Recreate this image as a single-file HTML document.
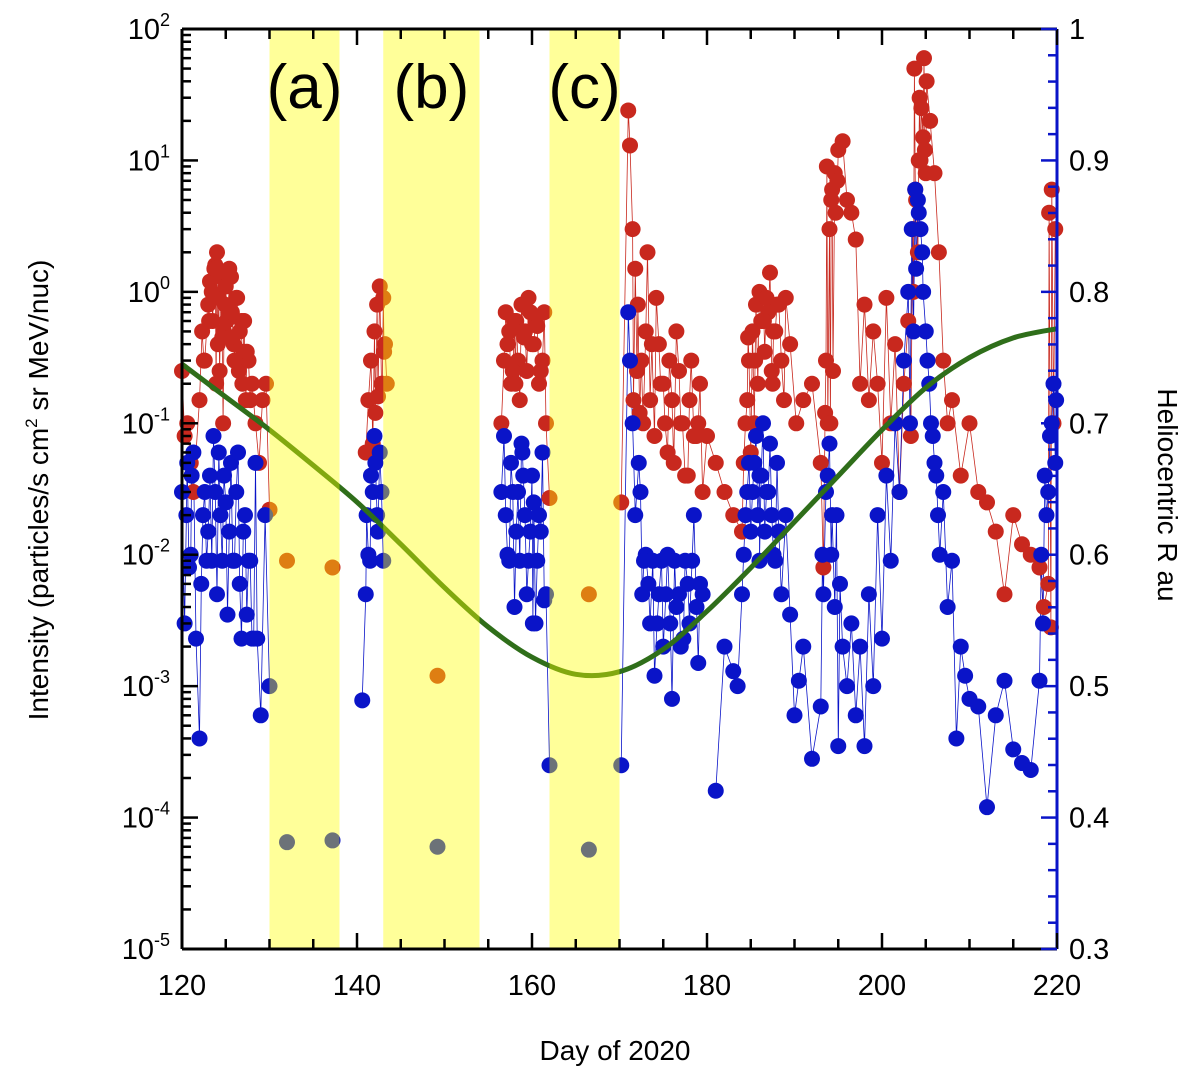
<!DOCTYPE html>
<html><head><meta charset="utf-8"><style>
html,body{margin:0;padding:0;background:#fff}
svg{display:block;font-family:"Liberation Sans",Arial,sans-serif}
</style></head><body>
<svg id="chart" width="1200" height="1081" viewBox="0 0 1200 1081">
<g id="lines"></g><g id="marks"></g><g id="curve"></g><g id="bands"></g><g id="axes"></g>
<text x="615" y="1060" font-size="28" text-anchor="middle">Day of 2020</text>
<text transform="translate(48,490) rotate(-90)" font-size="28" text-anchor="middle">Intensity (particles/s cm<tspan dy="-11" font-size="17">2</tspan><tspan dy="11"> sr MeV/nuc)</tspan></text>
<text transform="translate(1158,495) rotate(90)" font-size="28" text-anchor="middle">Heliocentric R au</text>
</svg>
<script>
const bandStarts=[130,143,162];
const bandEnds=[138,154,170];
const bandLabels=["(a)","(b)","(c)"];
const redDays=[120,120.3,120.6,121,121.3,122,122.3,122.6,123,123.2,123.5,123.8,124,124.2,124.5,124.8,125,125.3,125.6,125.9,126.2,126.5,126.8,127,127.3,127.6,128,128.4,128.8,129.2,129.6,130,132,137.2,141,141.3,141.6,142,142.3,142.6,143,143.2,143.4,149.2,156.5,156.8,157.2,157.6,158,158.4,158.8,159.2,159.6,160,160.4,160.8,161.2,161.6,162,166.5,170.2,171,171.2,171.5,171.8,172.1,172.5,173,173.5,174,174.5,175,175.5,176,176.5,177,177.5,178,178.5,179,179.5,180,181,182,183,184,184.4,184.8,185.2,185.6,186,186.4,186.8,187.2,187.6,188,188.5,189,189.5,190.2,191,192,193,193.3,193.6,194,194.3,194.6,195,195.5,196,196.5,197,197.5,198,198.5,199,199.5,200,200.5,201,201.5,202,202.5,203,203.3,203.6,203.9,204.2,204.5,204.8,205.1,205.5,206,206.5,207,207.5,208,209,210,211,212,213,214,215,216,217,218,218.5,219,219.3,219.6,
122.5,123.1,123.4,123.7,124.1,124.3,124.6,124.9,125.1,125.4,125.7,126,126.3,126.6,126.9,127.1,127.4,127.8,125.5,124.7,123.9,
141.8,142.1,142.4,142.8,142.9,143.1,
157,157.4,157.8,158.2,158.6,159,159.4,159.8,160.2,160.6,161,161.4,158.1,159.1,
171.6,172,172.3,172.7,173.2,173.7,174.2,174.7,175.2,175.7,176.2,176.8,177.2,177.8,178.2,178.8,179.2,
184.2,184.6,185,185.4,185.8,186.2,186.6,187,187.4,187.8,188.2,185.5,186.5,187.5,184.7,188.8,
193.5,193.8,194.1,194.4,194.7,194.9,194.2,193.7,
203.5,203.8,204.1,204.4,204.7,205,204.3,203.7,204.9,
219.1,219.4,219.8];
const redVals=[0.25,0.08,0.1,0.05,0.03,0.15,0.5,0.3,0.8,1.2,0.6,1.6,2.0,0.9,1.3,0.5,1.1,0.7,1.3,0.4,0.9,0.25,0.6,0.35,0.15,0.3,0.2,0.1,0.05,0.15,0.2,0.022,0.009,0.008,0.06,0.15,0.3,0.5,0.8,1.1,0.9,0.4,0.2,0.0012,0.1,0.3,0.4,0.2,0.6,0.3,0.8,0.5,0.9,0.4,0.6,0.2,0.3,0.1,0.027,0.005,0.025,24,13,3,1.5,0.8,0.3,0.5,0.15,0.08,0.4,0.2,0.06,0.15,0.5,0.1,0.04,0.15,0.08,0.1,0.03,0.08,0.05,0.03,0.02,0.015,0.1,0.3,0.5,0.8,1.0,0.6,0.9,1.4,0.5,0.8,0.3,0.9,0.4,0.1,0.15,0.2,0.05,0.008,0.3,3,6,8,12,14,5,4,2.5,0.2,0.8,0.15,0.5,0.2,0.05,0.9,0.1,0.4,0.03,0.2,0.6,0.08,1.0,5,10,25,60,40,20,8,2,0.3,0.1,0.15,0.04,0.1,0.03,0.025,0.015,0.005,0.02,0.012,0.01,0.008,0.004,0.006,0.0028,0.1,0.3,0.6,1.0,1.5,
0.4,0.25,0.45,0.8,0.6,1.5,0.7,0.3,0.9,0.5,0.2,0.6,0.35,0.15,0.45,0.1,0.2,0.07,0.12,0.16,0.2,
0.2,0.35,0.7,0.5,0.25,0.6,
0.15,0.5,0.25,0.7,0.4,0.55,0.25,0.7,0.2,0.45,0.15,0.25,0.12,0.1,
2,0.4,0.9,0.2,0.1,0.3,0.05,0.25,0.1,0.04,0.3,0.08,0.2,0.05,0.15,0.06,0.1,
0.2,0.6,0.35,0.7,0.25,0.5,0.8,0.3,0.6,0.2,0.45,0.15,0.12,0.1,0.1,0.25,
4,7,5,9,3,6,2,10,
15,8,30,50,12,4,6,3,20,
0.5,0.2,0.8];
const blueDays=[120,120.3,120.6,121,121.3,121.6,122,122.4,122.8,123.2,123.6,124,124.4,124.8,125.2,125.6,126,126.4,126.8,127.2,127.6,128,128.4,129,129.5,130,132,137.2,140.6,141,141.3,141.6,142,142.3,142.6,143,149.2,156.5,156.8,157.2,157.6,158,158.4,158.8,159.2,159.6,160,160.4,160.8,161.2,161.6,162,166.5,170.2,171,171.2,171.5,171.8,172.2,172.6,173,173.5,174,174.5,175,175.5,176,176.5,177,177.5,178,178.5,179,179.5,181,182,183,183.5,184,184.4,184.8,185.2,185.6,186,186.4,186.8,187.2,187.6,188,188.5,189,189.5,190,190.5,191,192,193,193.3,193.6,194,194.3,194.6,195,195.5,196,196.5,197,197.5,198,198.5,199,199.5,200,200.5,201,201.5,202,202.5,203,203.4,203.8,204.2,204.6,205,205.4,205.8,206.2,206.6,207,207.5,208,208.5,209,209.5,210,211,212,213,214,215,216,217,218,218.4,218.8,219.2,219.6,
120.5,120.8,121.1,122.2,122.6,123,123.4,123.8,124.2,124.6,125,125.4,125.8,126.2,126.6,127,127.4,127.8,128.2,128.6,
141.1,141.5,141.8,142.1,142.4,142.8,
157,157.4,157.8,158.2,158.6,159,159.4,159.8,160.2,160.6,161,161.4,158.9,160.1,
172.4,172.8,173.3,173.8,174.3,174.8,175.3,175.8,176.3,176.8,177.3,177.8,178.3,178.8,179.2,
184.2,184.6,185,185.4,185.8,186.2,186.6,187,187.4,187.8,188.2,186,
193.2,193.8,194.2,194.8,195.2,
203.2,203.6,203.9,204.1,204.4,204.7,205.2,205.6,206,206.4,
218.2,218.6,219,219.4,219.8,219.9];
const blueVals=[0.03,0.003,0.05,0.01,0.06,0.0023,0.0004,0.02,0.009,0.04,0.08,0.005,0.02,0.04,0.0035,0.05,0.009,0.06,0.0023,0.02,0.009,0.0023,0.05,0.0006,0.02,0.001,0.000065,0.000067,0.00078,0.005,0.01,0.04,0.08,0.02,0.06,0.009,0.00006,0.03,0.08,0.01,0.05,0.004,0.03,0.07,0.02,0.009,0.04,0.003,0.02,0.06,0.005,0.00025,0.000057,0.00025,0.7,0.3,0.1,0.02,0.05,0.005,0.01,0.003,0.0012,0.005,0.002,0.01,0.0008,0.004,0.002,0.009,0.003,0.02,0.0015,0.005,0.00016,0.002,0.0013,0.001,0.005,0.02,0.05,0.03,0.08,0.04,0.1,0.03,0.07,0.01,0.05,0.005,0.02,0.0035,0.0006,0.0011,0.002,0.00028,0.0007,0.005,0.03,0.07,0.02,0.004,0.00035,0.002,0.001,0.003,0.0006,0.002,0.00035,0.005,0.001,0.02,0.0023,0.04,0.009,0.1,0.03,0.3,1,3,6,4,2,0.5,0.2,0.08,0.04,0.01,0.03,0.004,0.009,0.0004,0.002,0.0012,0.0008,0.0007,0.00012,0.0006,0.0011,0.00033,0.00026,0.00023,0.0011,0.003,0.02,0.08,0.2,
0.02,0.008,0.04,0.006,0.03,0.015,0.009,0.03,0.06,0.009,0.025,0.015,0.009,0.03,0.006,0.015,0.0035,0.009,0.0023,0.0023,
0.02,0.009,0.03,0.05,0.015,0.03,
0.02,0.009,0.03,0.015,0.009,0.04,0.005,0.015,0.025,0.009,0.015,0.0045,0.06,0.003,
0.03,0.009,0.006,0.009,0.003,0.009,0.005,0.003,0.009,0.005,0.0023,0.006,0.009,0.004,0.006,
0.01,0.03,0.015,0.05,0.02,0.04,0.015,0.03,0.02,0.009,0.015,0.009,
0.01,0.04,0.01,0.02,0.006,
0.1,0.5,1.5,5,3,1,0.3,0.1,0.05,0.02,
0.01,0.04,0.03,0.1,0.05,0.15];
const rDays=[120,125,130,135,140,145,150,155,160,165,170,175,180,185,190,195,200,205,210,215,220];
const rVals=[0.745,0.72,0.695,0.668,0.64,0.608,0.575,0.545,0.522,0.509,0.511,0.528,0.557,0.59,0.625,0.66,0.695,0.727,0.75,0.765,0.772];
const xTicks=[120,140,160,180,200,220];
const yExps=[2,1,0,-1,-2,-3,-4,-5];
const rTicks=[1,0.9,0.8,0.7,0.6,0.5,0.4,0.3];

const X0=182,X1=1057,Y0=29,Y1=949;
const xs=d=>X0+(d-120)/100*(X1-X0);
const ys=v=>Y0+(2-Math.log10(v))/7*(Y1-Y0);
const yr=r=>Y0+(1-r)/0.7*(Y1-Y0);
const NS="http://www.w3.org/2000/svg";
function mk(t,a,p){const e=document.createElementNS(NS,t);for(const k in a)e.setAttribute(k,a[k]);p.appendChild(e);return e;}
const lines=document.getElementById('lines'),marks=document.getElementById('marks'),curve=document.getElementById('curve'),bands=document.getElementById('bands'),axes=document.getElementById('axes');

function series(days,vals,col,name){
  const idx=days.map((_,i)=>i).sort((a,b)=>days[a]-days[b]);
  let d='';let prev=null;
  idx.forEach(i=>{const x=xs(days[i]).toFixed(1),y=ys(vals[i]).toFixed(1);
    d+=((prev!==null&&days[i]-prev<1.3)?'L':'M')+x+' '+y;prev=days[i];});
  const p=mk('path',{d:d,fill:'none',stroke:col,'stroke-width':0.8},lines);
  
  
  days.forEach((x,i)=>{const c=mk('circle',{cx:xs(x),cy:ys(vals[i]),r:8,fill:col},marks);
    
    });
}
series(redDays,redVals,'#c8281e','red-series');
series(blueDays,blueVals,'#0a14c8','blue-series');

{let pts=rDays.map((d,i)=>[xs(d),yr(rVals[i])]);let d='M'+pts[0][0]+' '+pts[0][1];
for(let i=0;i<pts.length-1;i++){const p0=pts[Math.max(0,i-1)],p1=pts[i],p2=pts[i+1],p3=pts[Math.min(pts.length-1,i+2)];
d+=`C${p1[0]+(p2[0]-p0[0])/6} ${p1[1]+(p2[1]-p0[1])/6} ${p2[0]-(p3[0]-p1[0])/6} ${p2[1]-(p3[1]-p1[1])/6} ${p2[0]} ${p2[1]}`;}
const c=mk('path',{d:d,fill:'none',stroke:'#2f6e1a','stroke-width':5},curve);

}

bandStarts.forEach((s,i)=>{
  const r=mk('rect',{x:xs(s),y:Y0,width:xs(bandEnds[i])-xs(s),height:Y1-Y0,fill:'#ffff00','fill-opacity':0.4},bands);
  
  
  const t=mk('text',{x:(xs(s)+xs(bandEnds[i]))/2,y:108,'font-size':62,'text-anchor':'middle',fill:'#000'},bands);
  t.textContent=bandLabels[i];
  
  
});

mk('line',{x1:X0,y1:Y0,x2:X1,y2:Y0,stroke:'#000','stroke-width':3},axes);
mk('line',{x1:X0,y1:Y1,x2:X1,y2:Y1,stroke:'#000','stroke-width':3},axes);
mk('line',{x1:X0,y1:Y0,x2:X0,y2:Y1,stroke:'#000','stroke-width':3},axes);
mk('line',{x1:X1,y1:Y0,x2:X1,y2:Y1,stroke:'#0a14c8','stroke-width':3},axes);
for(let d=120;d<=220;d+=5){const L=d%20==0?16:10,x=xs(d);
  mk('line',{x1:x,y1:Y1,x2:x,y2:Y1-L,stroke:'#000','stroke-width':2.5},axes);
  mk('line',{x1:x,y1:Y0,x2:x,y2:Y0+L,stroke:'#000','stroke-width':2.5},axes);}
xTicks.forEach(d=>{const t=mk('text',{x:xs(d),y:Y1+46,'font-size':29,'text-anchor':'middle','font-family':'"Liberation Sans Narrow","Liberation Sans",sans-serif'},axes);t.textContent=d;
  
  });
yExps.forEach(e=>{const y=ys(Math.pow(10,e));
  mk('line',{x1:X0,y1:y,x2:X0+16,y2:y,stroke:'#000','stroke-width':2.5},axes);
  if(e>-5)for(let m=2;m<10;m++){const yy=ys(m*Math.pow(10,e-1));mk('line',{x1:X0,y1:yy,x2:X0+9,y2:yy,stroke:'#000','stroke-width':2.5},axes);}
  const t=mk('text',{x:X0-12,y:y+10,'font-size':29,'text-anchor':'end','font-family':'"Liberation Sans Narrow","Liberation Sans",sans-serif'},axes);
  t.innerHTML='10<tspan dy="-13" font-size="18">'+e+'</tspan>';
  
  });
for(let k=0;k<=35;k++){const r=0.3+k*0.02,y=yr(r);const maj=Math.abs(r*10-Math.round(r*10))<1e-6;
  mk('line',{x1:X1,y1:y,x2:X1-(maj?16:9),y2:y,stroke:'#0a14c8','stroke-width':2.5},axes);}
rTicks.forEach(r=>{const t=mk('text',{x:X1+12,y:yr(r)+10,'font-size':29,'font-family':'"Liberation Sans Narrow","Liberation Sans",sans-serif'},axes);t.textContent=r;
  
  });
</script>
</body></html>
